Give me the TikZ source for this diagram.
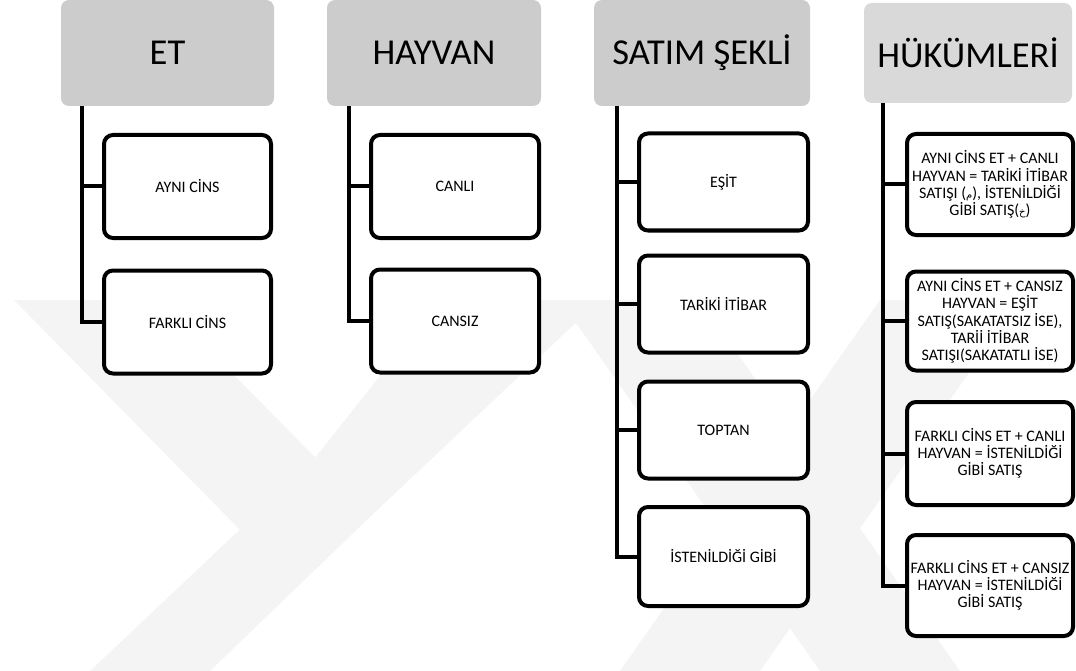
\documentclass[tikz,border=0pt]{standalone}
\usepackage{fontspec}
\setmainfont{Carlito}
\newfontfamily\arabicfont[Script=Arabic]{DejaVu Sans}
\TeXXeTstate=1
\definecolor{hgray}{HTML}{CCCCCC}
\definecolor{hlight}{HTML}{D9D9D9}
\definecolor{wmark}{HTML}{F4F4F4}
\newcommand{\ar}[1]{{\arabicfont\fontsize{10}{10}\selectfont\beginR #1\endR}}
\begin{document}
\begin{tikzpicture}[x=1pt,y=-1pt,
  hdr/.style={fill=hgray, rounded corners=8pt, inner sep=0pt, font=\fontsize{36.5}{40}\selectfont, minimum height=106pt},
  kid/.style={draw=black, line width=4pt, rounded corners=9pt, fill=white, inner sep=0pt, align=center, font=\fontsize{16}{17.3}\selectfont},
  conn/.style={line width=4pt, line cap=rect},
  wm/.style={fill=wmark, draw=none}]
\useasboundingbox (0,0) rectangle (1076,671);

% faint watermark
\fill[wm] (14,300) -- (160,300) -- (372,515) -- (250,540) -- cycle;
\fill[wm] (440,300) -- (600,300) -- (372,515) -- (250,540) -- cycle;
\fill[wm] (250,520) -- (372,515) -- (210,671) -- (90,671) -- cycle;
\fill[wm] (560,300) -- (700,300) -- (960,671) -- (820,671) -- cycle;
\fill[wm] (880,300) -- (1020,300) -- (760,671) -- (620,671) -- cycle;

% headers
\node[hdr, minimum width=213pt] (h1) at (167.5,53) {ET};
\node[hdr, minimum width=214pt] (h2) at (434,53) {HAYVAN};
\node[hdr, minimum width=216pt] (h3) at (702,53) {SATIM ŞEKLİ};
\node[hdr, fill=hlight, minimum width=208pt, minimum height=100pt] (h4) at (968,53) {HÜKÜMLERİ};

% column 1
\node[kid, minimum width=167pt, minimum height=103pt] (a1) at (187.5,186.5) {AYNI CİNS};
\node[kid, minimum width=167pt, minimum height=103pt] (a2) at (187.5,322) {FARKLI CİNS};
% column 2
\node[kid, minimum width=168pt, minimum height=103pt] (b1) at (455,186.5) {CANLI};
\node[kid, minimum width=168pt, minimum height=103pt] (b2) at (455,321) {CANSIZ};
% column 3
\node[kid, minimum width=169pt, minimum height=97pt] (c1) at (723.5,182) {EŞİT};
\node[kid, minimum width=169pt, minimum height=97pt] (c2) at (723.5,304) {TARİKİ İTİBAR};
\node[kid, minimum width=169pt, minimum height=97pt] (c3) at (723.5,430) {TOPTAN};
\node[kid, minimum width=169pt, minimum height=99pt] (c4) at (723.5,556.5) {İSTENİLDİĞİ GİBİ};
% column 4
\node[kid, minimum width=166pt, minimum height=101pt] (d1) at (990,184.5) {AYNI CİNS ET + CANLI\\HAYVAN = TARİKİ İTİBAR\\SATIŞI (\ar{م}), İSTENİLDİĞİ\\GİBİ SATIŞ(\ar{خ})};
\node[kid, minimum width=166pt, minimum height=99pt] (d2) at (990,321) {AYNI CİNS ET + CANSIZ\\HAYVAN = EŞİT\\SATIŞ(SAKATATSIZ İSE),\\TARİİ İTİBAR\\SATIŞI(SAKATATLI İSE)};
\node[kid, minimum width=166pt, minimum height=103pt] (d3) at (990,453.5) {FARKLI CİNS ET + CANLI\\HAYVAN = İSTENİLDİĞİ\\GİBİ SATIŞ};
\node[kid, minimum width=166pt, minimum height=101pt] (d4) at (990,585.5) {FARKLI CİNS ET + CANSIZ\\HAYVAN = İSTENİLDİĞİ\\GİBİ SATIŞ};

% trunk coordinates
\coordinate (t1) at (82,108);
\coordinate (t2) at (349,108);
\coordinate (t3) at (617,108);
\coordinate (t4) at (883,105);

\draw[conn] (t1) |- (a2.west);
\draw[conn] (a1.west -| t1) -- (a1.west);
\draw[conn] (t2) |- (b2.west);
\draw[conn] (b1.west -| t2) -- (b1.west);
\draw[conn] (t3) |- (c4.west);
\draw[conn] (c1.west -| t3) -- (c1.west);
\draw[conn] (c2.west -| t3) -- (c2.west);
\draw[conn] (c3.west -| t3) -- (c3.west);
\draw[conn] (t4) |- (d4.west);
\draw[conn] (d1.west -| t4) -- (d1.west);
\draw[conn] (d2.west -| t4) -- (d2.west);
\draw[conn] (d3.west -| t4) -- (d3.west);
\end{tikzpicture}
\end{document}
